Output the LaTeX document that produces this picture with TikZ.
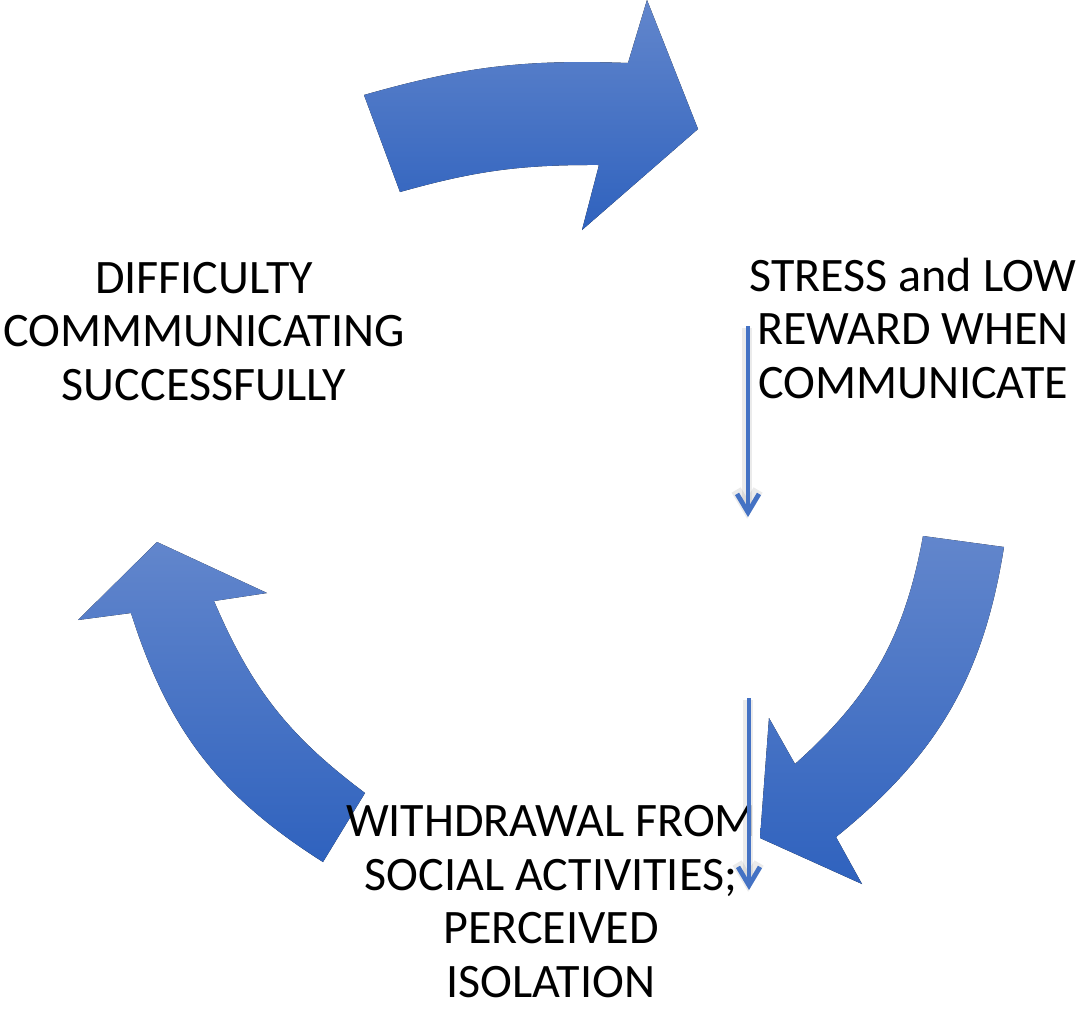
\documentclass[tikz,border=0pt]{standalone}
\usepackage{fontspec}
\setmainfont{Carlito}
\usetikzlibrary{arrows.meta}
\definecolor{cycletop}{RGB}{98,134,204}
\definecolor{cyclebot}{RGB}{47,98,190}
\definecolor{linkblue}{RGB}{68,114,196}
\begin{document}
\begin{tikzpicture}[x=0.02cm,y=0.02cm,
  bigarrow/.style={top color=cycletop, bottom color=cyclebot, draw=none},
  cyclelabel/.style={align=center, inner sep=0pt, anchor=base,
    font=\fontsize{27.35pt}{30.4pt}\selectfont},
  feedback/.style={draw=linkblue, line width=2.7pt,
    -{Straight Barb[length=10.5pt,width=12.5pt]}},
  feedshade/.style={draw=black, opacity=0.08, line width=6pt,
    -{Straight Barb[length=10.5pt,width=12.5pt]}}]
\useasboundingbox (0,0) rectangle (1089,-1008);

% curved cycle arrows
\fill[bigarrow] (364,-95) to[bend left=9] (628,-63) -- (647,0) -- (698,-129)
  -- (582,-230) -- (599,-165) to[bend right=8] (400,-192) -- cycle;
\fill[bigarrow] (923,-536) to[bend left=19] (795,-764) -- (769,-718) -- (760,-838)
  -- (862,-884) -- (836,-837) to[bend right=21] (1004,-547) -- cycle;
\fill[bigarrow] (323,-862) to[bend left=20] (131,-613) -- (78,-620) -- (157,-542)
  -- (267,-593) -- (214,-601) to[bend right=15] (365,-793) -- cycle;

% stages of the cycle (base anchor sits on the last line)
\node[cyclelabel] (diff) at (204,-400)
  {DIFFICULTY\\COMMMUNICATING\\SUCCESSFULLY};
\node[cyclelabel] (stress) at (913,-398)
  {STRESS and LOW\\REWARD WHEN\\COMMUNICATE};
\node[cyclelabel] (withdraw) at (551,-997)
  {WITHDRAWAL FROM\\SOCIAL ACTIVITIES;\\PERCEIVED\\ISOLATION};

% thin down arrows
\coordinate (s1) at (748,-326);
\coordinate (e1) at (748,-517);
\coordinate (s2) at (749,-698);
\coordinate (e2) at (749,-890);
\draw[feedshade] ([xshift=-0.5pt,yshift=-1pt]s1) -- ([xshift=-0.5pt,yshift=-1pt]e1);
\draw[feedshade] ([xshift=-0.5pt,yshift=-1pt]s2) -- ([xshift=-0.5pt,yshift=-1pt]e2);
\draw[feedback] (s1) -- (e1);
\draw[feedback] (s2) -- (e2);
\end{tikzpicture}
\end{document}
